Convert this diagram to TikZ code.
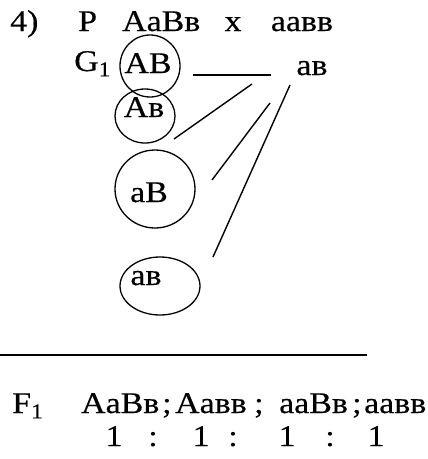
\documentclass[tikz,border=0pt]{standalone}
\usepackage{fontspec}
\setmainfont{Liberation Serif}[FakeStretch=1.13,FakeBold=0.4]
\usetikzlibrary{shapes.geometric}
\begin{document}
\begin{tikzpicture}[x=1pt,y=-1pt,
  txt/.style={anchor=base,inner sep=0pt,font=\fontsize{30}{36}\selectfont},
  gam/.style={draw,ellipse,inner sep=0pt,line width=1.3pt},
  ln/.style={line width=1.4pt}]
\useasboundingbox (0,0) rectangle (428,459);
% top row
\node[txt,anchor=base west] (num) at (10,31) {4)};
\node[txt,anchor=base west] (P) at (78,31) {P};
\node[txt,anchor=base west] (p1) at (122,31) {AaBв};
\node[txt] (cross) at (233,31) {x};
\node[txt] (p2) at (302,31) {aaвв};
% gametes
\node[txt,anchor=base west] (G) at (74,71) {G\textsubscript{1}};
\node[gam,minimum width=60pt,minimum height=62pt] (c1) at (150,66) {};
\node[txt] (g1) at (148,73) {AB};
\node[gam,minimum width=60pt,minimum height=54pt] (c2) at (145,116) {};
\node[txt] (g2) at (144,117) {Aв};
\node[gam,minimum width=80pt,minimum height=78pt] (c3) at (155,189) {};
\node[txt] (g3) at (149,202) {aB};
\node[gam,minimum width=80pt,minimum height=58pt] (c4) at (160,286) {};
\node[txt] (g4) at (146,285) {aв};
\node[txt] (gm) at (312,75) {aв};
% connectors
\coordinate (h1) at (193,75);
\coordinate (h2) at (271,75);
\coordinate (a1) at (252,84);
\coordinate (b1) at (174,139);
\coordinate (a2) at (270,103);
\coordinate (b2) at (212,180);
\coordinate (a3) at (290,85);
\coordinate (b3) at (213,257);
\draw[ln] (h1) -- (h2);
\draw[ln] (a1) -- (b1);
\draw[ln] (a2) -- (b2);
\draw[ln] (a3) -- (b3);
% separator
\coordinate (s1) at (0,355);
\coordinate (s2) at (367,355);
\draw[line width=2pt] (s1) -- (s2);
% F1
\node[txt,anchor=base west] (F) at (12,413) {F\textsubscript{1}};
\node[txt,anchor=base west] (f1) at (81,413) {AaBв};
\node[txt,anchor=base west] (s1t) at (162,413) {;};
\node[txt,anchor=base west] (f2) at (175,413) {Aaвв};
\node[txt,anchor=base west] (s2t) at (254,413) {;};
\node[txt,anchor=base west] (f3) at (279,413) {aaBв};
\node[txt,anchor=base west] (s3t) at (352,413) {;};
\node[txt,anchor=base west] (f4) at (364,413) {aaвв};
\node[txt] (r1) at (114,446) {1};
\node[txt] (k1) at (153,446) {:};
\node[txt] (r2) at (201,446) {1};
\node[txt] (k2) at (233,446) {:};
\node[txt] (r3) at (287,446) {1};
\node[txt] (k3) at (330,446) {:};
\node[txt] (r4) at (376,446) {1};
\end{tikzpicture}
\end{document}
